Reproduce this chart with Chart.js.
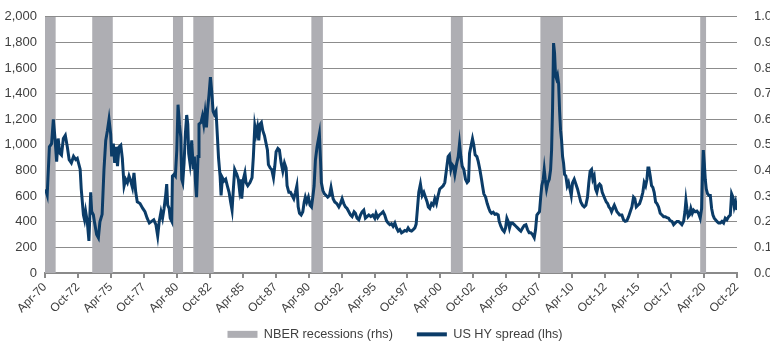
<!DOCTYPE html>
<html>
<head>
<meta charset="utf-8">
<script src="https://cdn.jsdelivr.net/npm/chart.js@4.4.1/dist/chart.umd.min.js"></script>
<style>
  html, body { margin: 0; padding: 0; background: #fff; }
</style>
</head>
<body>
<canvas id="hyChart" width="770" height="347"></canvas>
<script>
// US HY spread vs NBER recessions

// x positions are months since Apr-70
const tickLabels = ['Apr-70', 'Oct-72', 'Apr-75', 'Oct-77', 'Apr-80', 'Oct-82', 'Apr-85', 'Oct-87',
    'Apr-90', 'Oct-92', 'Apr-95', 'Oct-97', 'Apr-00', 'Oct-02', 'Apr-05', 'Oct-07',
    'Apr-10', 'Oct-12', 'Apr-15', 'Oct-17', 'Apr-20', 'Oct-22'];

const recessionStart = [-4, 43, 116.5, 135, 242.5, 369.5, 451, 596.5];
const recessionEnd   = [9.7, 61.7, 125.7, 153.6, 253, 380.4, 471.5, 602];

const spreadMonth = [
    0, 1, 2, 4, 6, 7.6, 9, 10.6, 12, 13.4, 15, 16.7, 18.5, 20.3, 22, 24, 26, 28, 29.4, 32,
    33, 35, 36, 37, 38.5, 40, 41.6, 42.5, 44, 45, 47, 48.6, 50, 52, 53.7, 55.3, 56.8, 58.3, 59.8, 60.7,
    62.2, 63.4, 64.7, 66, 67.4, 69, 70.4, 72, 73.5, 75, 76.5, 78, 79.6, 81, 82.6, 84,
    86.5, 89, 91, 93, 95, 97, 99, 101, 102.6, 104, 105.6, 107, 108.4, 110, 110.8, 111.7, 113, 114, 115.4,
    116, 117.5, 118.7, 120, 121.1, 122.4, 123.6, 124.5, 125.4, 126.6, 127.8, 129, 130, 130.8, 132, 133.6,
    135, 136, 137, 138, 139.3, 140.2, 142, 143.3, 144.5, 145.7, 147, 148, 149.3, 150.6, 151.8, 153, 154.2,
    155.7, 157, 158, 159.4, 160.3, 161.5, 163, 164.5, 166, 167.6, 169, 170.3, 171.5, 172.7, 174.6, 176,
    177, 178.2, 179.1, 180.6, 182, 183, 184.6, 186.6, 188.5, 189.7, 191, 192.2, 193.4, 194.6, 195.8, 197,
    198.3, 199.8, 201.3, 202.5, 203.4, 205, 206.4, 208, 209.2, 210.4, 212, 213.4, 215, 216.5, 218, 219.5,
    220.4, 222, 223.5, 225, 226.5, 228, 229.3, 230.5, 231.7, 233.2, 234.7, 236, 237, 238.3, 239.8, 241.3,
    242.6, 243.8, 245, 246.2, 247.7, 249, 249.8, 250.7, 251.6, 253, 254.4, 256, 257.4, 259, 260.4,
    262.3, 263.8, 265.6, 267.5, 269, 270.5, 272, 273.5, 275, 276.6, 278.1, 279.6, 281.4, 282.6, 284.1,
    285.7, 287.2, 288.7, 290.2, 291.7, 293.2, 294.8, 296.6, 298.4, 300.2, 301.4, 302.9, 304.5, 306.3,
    307.8, 309.3, 310.9, 312.4, 313.9, 315.4, 316.9, 318.5, 320, 321.5, 323, 324.6, 326.1, 327.6, 329.1,
    330.6, 332.1, 333.7, 335.2, 336.7, 337.9, 339.1, 340.3, 341.8, 343.4, 344.9, 346.4, 347.9,
    349, 350.3, 351.9, 353.4, 354.9, 356.4, 357.9, 359.4, 361, 362.5, 364, 365.5, 367, 368.2, 369.5,
    370.7, 371.9, 373.1, 374.6, 376.2, 377.4, 378.6, 379.8, 381.3, 382.8, 384.3, 385.6, 386.5, 387.7,
    389.2, 390.4, 391.6, 393.2, 394.4, 395.9, 397.4, 398.3, 399.5, 401.1, 402.6, 404.1, 405.3, 406.5,
    408.1, 409.6, 411.1, 412.6, 413.5, 415, 416.5, 418.1, 419.3, 420.5, 421.7, 422.9, 424.1, 425.6,
    427.2, 428.7, 430.2, 431.7, 433.2, 434.8, 436.3,
    437.8, 439.3, 440.8, 442.3, 443.8, 445.4, 446.6, 447.8, 449, 450.2, 451.4, 452.3, 453.6, 454.5,
    455.4, 456.6, 457.8, 459.1, 460.3, 461.2, 462.1, 463, 463.9, 464.8, 465.7, 466.6, 467.6, 468.5,
    469.4, 470.3, 471.2, 472.1, 473, 474.2, 475.4, 476.6, 477.9, 479.1, 480.3, 481.8, 483.3, 484.8,
    486.3, 487.8, 489.4, 490.9, 492.4, 493.9, 495.1, 496.3, 497.6, 498.8, 500, 501.2, 502.4, 503.7,
    504.9, 506.1, 507.3, 508.5, 509.7, 511, 512.2, 513.4, 514.6, 515.8, 517, 518.3, 519.5, 520.7,
    521.9, 523.1,
    525.2, 526.7, 528.2, 529.7, 531.3, 532.8, 534.3, 535.8, 537, 538.3, 539.8, 541.3, 542.8, 544.3,
    545.5, 546.8, 548, 548.9, 549.8, 551, 552.2, 553.4, 554.6, 555.9, 557.1, 558.6, 560.1, 561.7,
    563.2, 564.7, 566.2, 567.7, 569.2, 570.8, 572.3, 573.8, 575.3, 576.8, 578.3, 579.8, 581.4, 582.6,
    583.5, 584.4, 585.6, 586.8, 588, 589.3, 590.5, 592, 593.5, 595, 596.5, 597.8, 598.7, 599.3, 600.2,
    601.1, 602, 603.2, 604.5, 605.7, 606.9, 608.1, 609.3, 610.5, 611.7, 613.3, 614.8, 616.3, 617.8,
    619.3, 620.8, 622.4, 623.9, 625.1, 626.3, 627.5, 628.7, 629.9
];

const spreadBps = [
    650, 640, 610, 985, 1010, 1200, 1060, 870, 1050, 935, 920, 1050, 1075, 985, 885, 860, 910, 885, 895, 810,
    655, 453, 415, 480, 400, 250, 630, 480, 455, 400, 300, 275, 400, 458, 808, 1035, 1110, 1200, 1085, 910,
    1010, 860, 985, 835, 985, 998, 895, 680, 730, 705, 757, 720, 668, 782, 630, 555,
    542, 504, 478, 428, 390, 403, 415, 377, 289, 403, 478, 428, 504, 618, 694, 529, 504, 428, 403,
    757, 770, 757, 960, 1314, 1162, 1060, 732, 706, 858, 1086, 1233, 1162, 934, 858, 1035,
    808, 909, 706, 592, 909, 1162, 1175, 1225, 1162, 1250, 1137, 1276, 1390, 1529, 1415, 1263, 1238,
    1263, 1060, 896, 757, 605, 744, 719, 732, 681, 630, 554, 491, 656, 808, 770, 732,
    656, 732, 580, 732, 782, 706, 681, 706, 744, 909, 1149, 1086, 1137, 1035, 1162, 1175,
    1111, 1073, 1010, 960, 846, 820, 808, 744, 833, 947, 972, 960, 858, 795, 858, 820,
    681, 630, 630, 605, 580, 630, 681, 516, 466, 453, 478, 554, 592, 554, 592, 529,
    516, 592, 681, 884, 985, 1048, 1086, 909, 706, 643, 618, 605, 592, 605, 668,
    580, 554, 542, 516, 542, 580, 542, 516, 504, 478, 453, 440, 478, 466, 428,
    415, 453, 478, 491, 428, 440, 453, 440, 453, 428, 466, 433, 453, 466,
    478, 453, 408, 390, 377, 385, 365, 390, 352, 327, 339, 314, 322, 332, 327,
    352, 332, 327, 339, 352, 382, 504, 630, 694, 605, 630, 592, 554,
    516, 504, 542, 529, 580, 542, 605, 656, 668, 681, 706, 808, 909, 922, 808,
    846, 833, 770, 846, 909, 1010, 909, 833, 808, 732, 706, 719, 934, 985,
    1048, 998, 922, 909, 871, 808, 732, 681, 618, 592, 542, 504, 478, 466,
    474, 458, 461, 453, 403, 365, 339, 322, 352, 428, 403, 352, 390, 390,
    377, 365, 352, 339, 327, 352, 372,
    377, 339, 314, 314, 301, 276, 339, 453, 466, 478, 605, 681, 732, 808,
    732, 656, 706, 732, 808, 960, 1289, 1795, 1719, 1542, 1517, 1542, 1479, 1263,
    1111, 1035, 909, 858, 770, 757, 681, 706, 656, 605, 706, 732, 694, 656,
    605, 554, 529, 516, 529, 592, 706, 795, 808, 732, 757, 656, 630, 681,
    694, 681, 630, 605, 580, 554, 542, 516, 504, 478, 504, 529, 504, 478,
    466, 453,
    453, 415, 403, 408, 440, 478, 516, 592, 580, 516, 529, 542, 580, 630,
    706, 681, 732, 820, 820, 757, 681, 668, 630, 554, 542, 516, 466, 453,
    440, 440, 433, 428, 408, 403, 377, 390, 403, 403, 390, 377, 403, 478,
    567, 504, 440, 453, 504, 466, 491, 478, 483, 466, 428, 504, 808, 960, 858,
    732, 656, 618, 605, 605, 504, 453, 428, 415, 403, 390, 390, 403, 390,
    428, 415, 440, 453, 618, 592, 516, 554, 491
];

const NAVY = '#0b3c68';
const GREY = '#aeaeb3';
const TEXT = '#404040';
const FONT = '"Liberation Sans", Arial, sans-serif';

// recession blocks as rectangles on the right-hand axis
const recessionPoints = [];
recessionStart.forEach((s, i) => {
    const e = recessionEnd[i];
    recessionPoints.push({ x: s, y: 0 }, { x: s, y: 1 }, { x: e, y: 1 }, { x: e, y: 0 });
});

const spreadPoints = spreadMonth.map((m, i) => ({ x: m, y: spreadBps[i] }));

// fixed legend height + nudge, to match the original placement
// (calls the inner draw so the legend's own clip box doesn't cut the shifted text)
const legendTweak = {
    id: 'legendTweak',
    beforeInit(chart) {
        const lg = chart.legend;
        const fit = lg.fit;
        lg.fit = function () {
            fit.call(lg);
            this.height = 29;
        };
        const inner = lg._draw ? lg._draw : lg.draw;
        lg.draw = function () {
            if (!this.options.display) return;
            const ctx = chart.ctx;
            ctx.save();
            ctx.translate(10, -14);
            inner.call(lg);
            ctx.restore();
        };
    }
};

new Chart(document.getElementById('hyChart'), {
    type: 'line',
    data: {
        datasets: [
            {
                label: 'US HY spread (lhs)',
                data: spreadPoints,
                yAxisID: 'y',
                borderColor: NAVY,
                borderWidth: 3,
                pointRadius: 0,
                tension: 0,
                fill: false
            },
            {
                label: 'NBER recessions (rhs)',
                data: recessionPoints,
                yAxisID: 'y1',
                borderWidth: 0,
                borderColor: GREY,
                backgroundColor: GREY,
                pointRadius: 0,
                tension: 0,
                fill: 'origin'
            }
        ]
    },
    options: {
        responsive: false,
        animation: false,
        layout: { padding: { top: 1.2, left: 0, right: 0, bottom: 0 } },
        plugins: {
            tooltip: { enabled: false },
            legend: {
                position: 'bottom',
                labels: {
                    usePointStyle: true,
                    pointStyleWidth: 30,
                    boxHeight: 7,
                    padding: 24,
                    color: TEXT,
                    font: { family: FONT, size: 12.7 },
                    generateLabels: () => [
                        { text: 'NBER recessions (rhs)', fillStyle: GREY, strokeStyle: GREY, lineWidth: 0,
                          pointStyle: 'rect', datasetIndex: 1, fontColor: TEXT },
                        { text: 'US HY spread (lhs)', fillStyle: NAVY, strokeStyle: NAVY, lineWidth: 4,
                          pointStyle: 'line', datasetIndex: 0, fontColor: TEXT }
                    ]
                }
            }
        },
        scales: {
            x: {
                type: 'linear',
                min: 0,
                max: 630,
                afterFit: s => { s.height = 45; },
                border: { display: true, color: '#8a8a8a', width: 2 },
                grid: { drawOnChartArea: false, drawTicks: true, tickLength: 5, color: '#8a8a8a', lineWidth: 2 },
                ticks: {
                    stepSize: 30,
                    autoSkip: false,
                    maxRotation: 45,
                    minRotation: 45,
                    padding: 2,
                    color: TEXT,
                    font: { family: FONT, size: 12 },
                    callback: v => tickLabels[Math.round(v / 30)]
                }
            },
            y: {
                position: 'left',
                min: 0,
                max: 2000,
                afterFit: s => { s.width = 45; },
                border: { display: false },
                grid: { color: '#8c8c8c', lineWidth: 1, drawTicks: false },
                ticks: {
                    stepSize: 200,
                    padding: 8,
                    color: TEXT,
                    font: { family: FONT, size: 13 },
                    callback: v => v.toLocaleString('en-US')
                }
            },
            y1: {
                position: 'right',
                min: 0,
                max: 1,
                afterFit: s => { s.width = 33; },
                border: { display: false },
                grid: { display: false, drawOnChartArea: false },
                ticks: {
                    stepSize: 0.1,
                    padding: 9,
                    color: TEXT,
                    font: { family: FONT, size: 13 },
                    callback: v => v.toFixed(1)
                }
            }
        }
    },
    plugins: [legendTweak]
});
</script>
</body>
</html>
